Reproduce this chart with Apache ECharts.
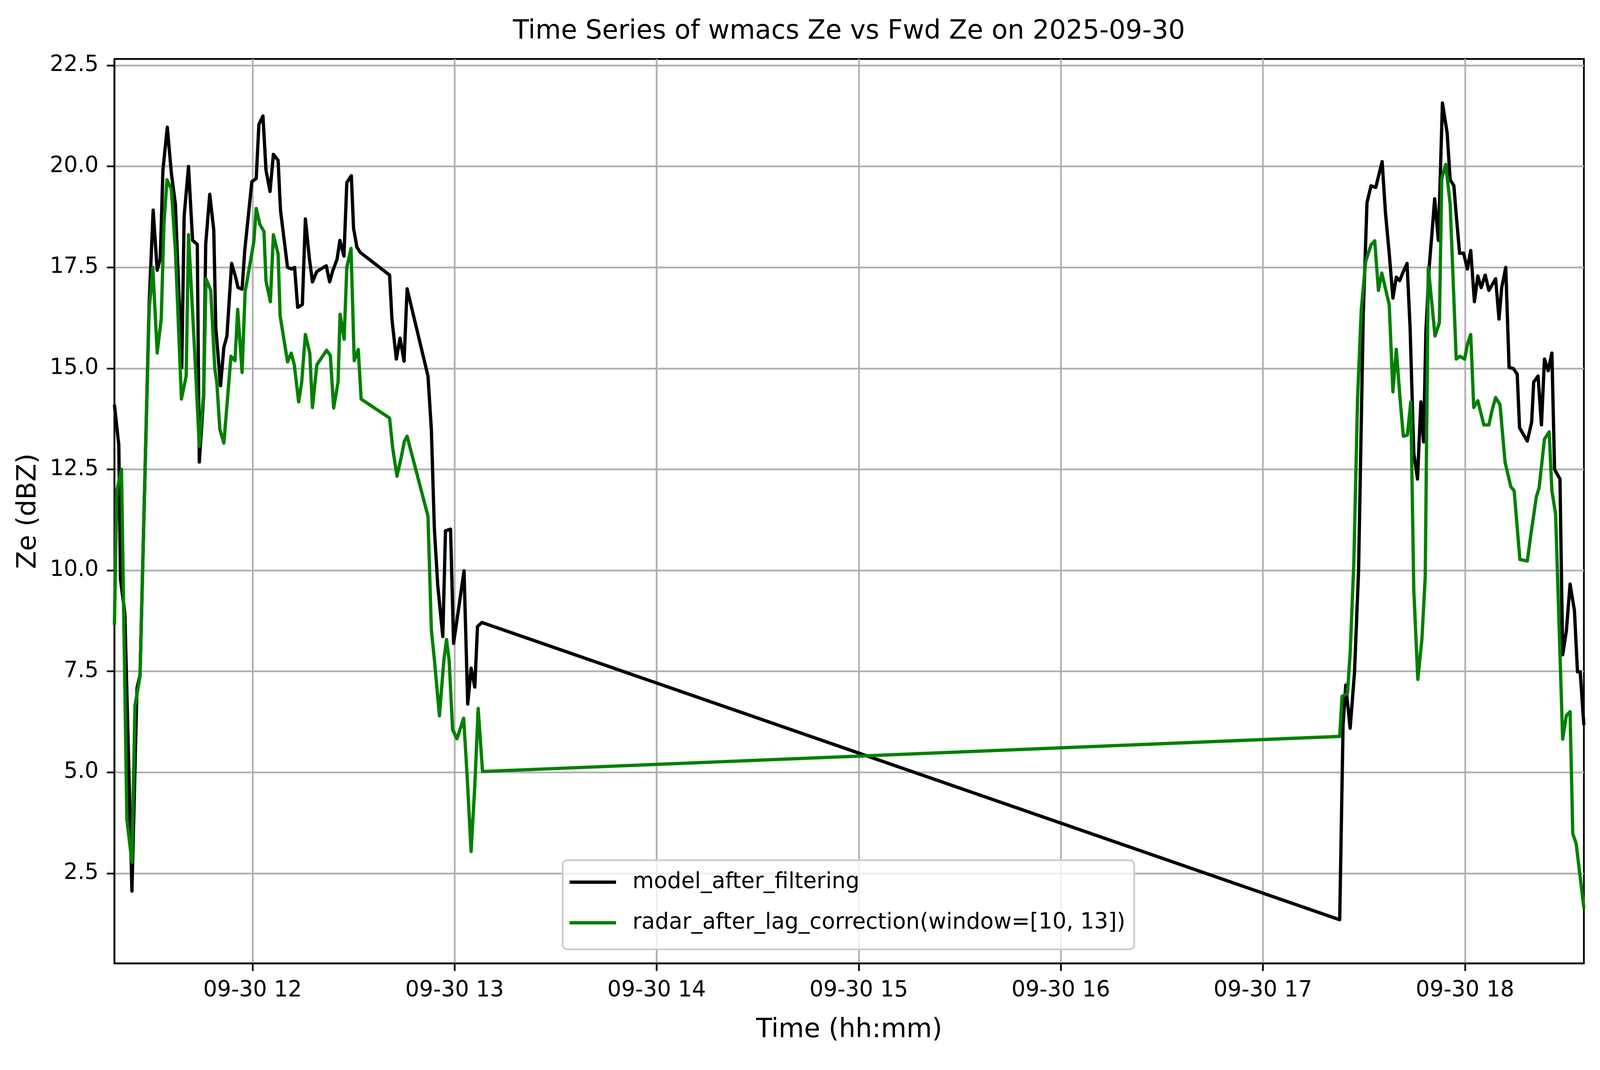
<!DOCTYPE html>
<html>
<head>
<meta charset="utf-8">
<script src="https://cdn.jsdelivr.net/npm/echarts@6/dist/echarts.min.js"></script>
<style>
  html, body { margin: 0; padding: 0; background: #ffffff; overflow: hidden; }
  #main { width: 100vw; height: 100vh; }
</style>
</head>
<body>
<div id="main"></div>
<script>
// ---------------- DATA ----------------
const chartDate = [2025, 9, 30];

const modelTimes = [
  '11:19:00','11:20:18','11:20:48','11:22:06','11:24:12','11:25:42','11:26:36','11:29:18','11:30:30','11:31:42',
  '11:32:36','11:33:24','11:34:42','11:35:54','11:37:06','11:39:00','11:39:42','11:41:00','11:42:12','11:43:36',
  '11:44:12','11:45:30','11:46:06','11:47:18','11:48:30','11:49:06','11:50:30','11:51:30','11:52:24','11:53:48',
  '11:55:06','11:55:42','11:56:54','11:57:42','11:59:48','12:01:06','12:01:54','12:03:06','12:04:00','12:05:12',
  '12:06:12','12:07:36','12:08:18','12:10:24','12:11:36','12:12:30','12:13:24','12:14:48','12:15:42','12:16:54',
  '12:17:48','12:19:06','12:21:54','12:22:54','12:23:48','12:25:06','12:25:57','12:27:09','12:28:00','12:29:21',
  '12:30:00','12:31:00','12:32:00','12:40:42','12:41:24','12:42:42','12:43:48','12:45:00','12:45:54','12:52:06',
  '12:53:06','12:54:00','12:55:00','12:56:30','12:57:18','12:58:48','12:59:42','13:01:06','13:02:48','13:03:54',
  '13:04:54','13:06:00','13:06:48','13:08:06',
  '17:22:48','17:23:48','17:24:36','17:25:54','17:27:12','17:28:24','17:29:48','17:30:54','17:32:06','17:33:30',
  '17:35:24','17:36:24','17:37:30','17:38:36','17:39:36','17:40:36','17:41:30','17:42:48','17:43:42','17:44:48',
  '17:45:54','17:46:54','17:47:42','17:48:24','17:49:24','17:50:12','17:51:00','17:52:06','17:53:18','17:54:42',
  '17:55:36','17:56:42','17:57:30','17:58:24','17:59:36','18:00:42','18:01:42','18:02:48','18:03:48','18:04:48',
  '18:06:00','18:07:06','18:09:06','18:10:06','18:10:54','18:12:06','18:13:06','18:14:18','18:15:30','18:16:12',
  '18:18:30','18:19:48','18:20:24','18:21:42','18:22:42','18:23:36','18:24:42','18:25:48','18:26:36','18:28:12',
  '18:29:00','18:30:06','18:31:12','18:32:30','18:33:24','18:34:12','18:35:18'
];
const modelValues = [
  14.1, 13.1, 9.78, 8.93, 2.06, 7.09, 7.4, 16.58, 18.92, 17.43,
  17.71, 19.91, 20.97, 19.84, 19.06, 15.02, 18.77, 20.0, 18.17, 18.07,
  12.68, 14.31, 18.07, 19.31, 18.42, 16.01, 14.57, 15.52, 15.8, 17.6,
  17.22, 17.0, 16.96, 17.92, 19.62, 19.7, 21.04, 21.25, 19.91, 19.38,
  20.3, 20.15, 18.92, 17.5, 17.46, 17.5, 16.51, 16.58, 18.7, 17.71,
  17.14, 17.4, 17.54, 17.14, 17.41, 17.7, 18.17, 17.78, 19.6, 19.77,
  18.47, 18.0, 17.87, 17.31, 16.22, 15.23, 15.75, 15.18, 16.97, 14.81,
  13.49, 11.02, 9.63, 8.36, 10.98, 11.02, 8.19, 9.0, 9.99, 6.69,
  7.58, 7.11, 8.61, 8.71,
  1.35, 6.17, 7.16, 6.09, 7.48, 9.99, 16.36, 19.1, 19.52, 19.48,
  20.12, 18.84, 17.85, 16.74, 17.26, 17.17, 17.36, 17.6, 16.01, 12.9,
  12.26, 14.17, 13.18, 15.94, 17.54, 18.35, 19.2, 18.17, 21.57, 20.83,
  19.67, 19.52, 18.7, 17.85, 17.85, 17.46, 17.92, 16.65, 17.29, 17.0,
  17.31, 16.93, 17.22, 16.22, 17.0, 17.5, 15.02, 15.0, 14.86, 13.53,
  13.2, 13.67, 14.66, 14.81, 13.6, 15.23, 14.94, 15.38, 12.5, 12.26,
  7.91, 8.5, 9.66, 9.0, 7.49, 7.49, 6.17
];

const radarTimes = [
  '11:19:00','11:19:42','11:21:06','11:22:42','11:24:12','11:25:06','11:26:36','11:29:18','11:30:24','11:31:42',
  '11:32:54','11:33:42','11:34:36','11:35:54','11:37:06','11:38:54','11:40:18','11:41:00','11:42:48','11:44:12',
  '11:45:30','11:46:12','11:47:36','11:48:48','11:49:24','11:50:18','11:51:30','11:53:36','11:54:48','11:55:36',
  '11:56:54','11:57:48','12:00:24','12:01:06','12:02:12','12:03:24','12:04:00','12:05:18','12:06:12','12:07:36',
  '12:08:12','12:10:24','12:11:30','12:12:24','12:13:42','12:14:36','12:15:42','12:17:00','12:17:48','12:19:06',
  '12:22:00','12:23:06','12:24:06','12:25:24','12:26:00','12:27:12','12:28:00','12:29:15','12:30:12','12:31:24',
  '12:32:15','12:40:42','12:41:36','12:42:54','12:44:12','12:45:06','12:45:54','12:52:06','12:53:06','12:54:00',
  '12:55:30','12:56:48','12:57:36','12:58:24','12:59:24','13:00:42','13:02:42','13:03:42','13:04:54','13:06:00',
  '13:07:00','13:08:18',
  '17:22:48','17:23:30','17:25:06','17:25:54','17:27:00','17:28:06','17:29:12','17:30:30','17:32:06','17:33:12',
  '17:34:18','17:35:18','17:37:30','17:38:36','17:39:36','17:40:48','17:41:42','17:42:54','17:43:54','17:44:48',
  '17:46:00','17:47:12','17:48:12','17:49:06','17:50:12','17:51:06','17:52:24','17:53:06','17:54:18','17:55:36',
  '17:56:24','17:57:24','17:58:30','17:59:54','18:00:42','18:01:42','18:02:36','18:03:48','18:05:36','18:07:06',
  '18:08:00','18:09:06','18:10:24','18:11:54','18:13:36','18:14:36','18:16:18','18:18:30','18:19:36','18:21:12',
  '18:22:00','18:23:36','18:25:00','18:25:48','18:26:54','18:29:00','18:30:06','18:31:12','18:32:00','18:33:00',
  '18:35:18'
];
const radarValues = [
  8.65, 11.97, 12.5, 3.83, 2.77, 6.65, 7.37, 16.44, 17.5, 15.38,
  16.23, 18.56, 19.67, 19.44, 17.92, 14.24, 14.81, 18.31, 15.45, 13.07,
  14.39, 17.22, 16.93, 14.99, 14.66, 13.49, 13.15, 15.3, 15.19, 16.46,
  14.9, 16.89, 18.14, 18.96, 18.56, 18.39, 17.17, 16.65, 18.31, 17.83,
  16.3, 15.16, 15.38, 15.09, 14.17, 14.66, 15.84, 15.38, 14.03, 15.09,
  15.45, 15.32, 14.02, 14.66, 16.34, 15.72, 17.5, 17.97, 15.19, 15.47,
  14.24, 13.77, 13.04, 12.33, 12.82, 13.2, 13.32, 11.34, 8.53, 7.79,
  6.4, 7.76, 8.29, 7.76, 6.06, 5.83, 6.34, 4.95, 3.04, 4.67,
  6.58, 5.02,
  5.89, 6.88, 6.95, 7.94, 10.2, 14.24, 16.44, 17.64, 18.06, 18.16,
  16.93, 17.36, 16.58, 14.42, 15.47, 14.17, 13.32, 13.35, 14.17, 9.5,
  7.3, 8.29, 9.85, 17.5, 16.58, 15.8, 16.13, 19.7, 20.05, 19.06,
  17.36, 15.23, 15.3, 15.23, 15.59, 15.84, 14.03, 14.2, 13.6, 13.6,
  13.95, 14.28, 14.1, 12.68, 12.07, 11.97, 10.27, 10.23, 10.91, 11.83,
  12.04, 13.25, 13.43, 11.97, 11.4, 5.82, 6.41, 6.5, 3.48, 3.24,
  1.64
];

const seriesNames = ['model_after_filtering', 'radar_after_lag_correction(window=[10, 13])'];
const seriesColors = ['#000000', '#008000'];
const yTickValues = [2.5, 5.0, 7.5, 10.0, 12.5, 15.0, 17.5, 20.0, 22.5];
const xTickHours = ['12:00:00','13:00:00','14:00:00','15:00:00','16:00:00','17:00:00','18:00:00'];
const yRange = [0.27, 22.66];
const titleText = 'Time Series of wmacs Ze vs Fwd Ze on 2025-09-30';
const xAxisName = 'Time (hh:mm)';
const yAxisName = 'Ze (dBZ)';

// ---------------- helpers ----------------
function toTs(hms) {
  const p = hms.split(':').map(Number);
  return new Date(chartDate[0], chartDate[1] - 1, chartDate[2], p[0], p[1], p[2] || 0).getTime();
}
function pad2(n) { return (n < 10 ? '0' : '') + n; }

const FONT = 'DejaVu Sans';
const modelData = modelTimes.map((t, i) => [toTs(t), modelValues[i]]);
const radarData = radarTimes.map((t, i) => [toTs(t), radarValues[i]]);
const xTicks = xTickHours.map(toTs);

// layout designed for a 5062 x 2740 page, scaled to the real viewport
const W = window.innerWidth || 5062;
const H = window.innerHeight || 2740;
const sx = W / 5062, sy = H / 2740, sf = Math.min(sx, sy);
const X = v => v * sx, Y = v => v * sy, F = v => v * sf;

const chart = echarts.init(document.getElementById('main'), null, { renderer: 'canvas', width: W, height: H });

chart.setOption({
  animation: false,
  backgroundColor: '#ffffff',
  textStyle: { fontFamily: FONT },
  title: {
    text: titleText,
    left: X(2686),
    top: Y(48),
    textAlign: 'center',
    padding: 0,
    textStyle: { fontFamily: FONT, fontSize: F(83), fontWeight: 'normal', color: '#000000' }
  },
  grid: {
    left: X(362), right: X(51), top: Y(151), bottom: Y(273),
    show: true, borderColor: '#000000', borderWidth: F(5.5), backgroundColor: 'transparent'
  },
  legend: {
    orient: 'vertical',
    left: X(1780), top: Y(2203),
    icon: 'rect',
    itemWidth: X(147), itemHeight: F(10.4), itemGap: Y(22),
    padding: [Y(15), X(28), Y(27), X(22)],
    backgroundColor: 'rgba(255,255,255,0.8)',
    borderColor: '#cccccc', borderWidth: F(5.5), borderRadius: F(14),
    textStyle: { fontFamily: FONT, fontSize: F(69.4), color: '#000000', lineHeight: Y(82), padding: [0, 0, 0, X(46)] },
    data: seriesNames
  },
  xAxis: {
    type: 'value',
    min: 'dataMin', max: 'dataMax',
    scale: true,
    name: xAxisName, nameLocation: 'middle', nameGap: Y(138),
    nameTextStyle: { fontFamily: FONT, fontSize: F(83), color: '#000000' },
    axisLine: { show: true, onZero: false, lineStyle: { color: '#000000', width: F(5.5) } },
    axisTick: { show: true, length: F(24), lineStyle: { color: '#000000', width: F(5.5) }, customValues: xTicks },
    axisLabel: {
      customValues: xTicks, margin: Y(42), fontFamily: FONT, fontSize: F(69.4), color: '#000000', hideOverlap: false,
      formatter: function (v) {
        const d = new Date(v);
        return pad2(d.getMonth() + 1) + '-' + pad2(d.getDate()) + ' ' + pad2(d.getHours());
      }
    },
    splitLine: { show: true, lineStyle: { color: '#b0b0b0', width: F(5.5) } }
  },
  yAxis: {
    type: 'value',
    min: yRange[0], max: yRange[1],
    name: yAxisName, nameLocation: 'middle', nameGap: X(230), nameRotate: 90,
    nameTextStyle: { fontFamily: FONT, fontSize: F(83), color: '#000000' },
    axisLine: { show: true, onZero: false, lineStyle: { color: '#000000', width: F(5.5) } },
    axisTick: { show: true, length: F(24), lineStyle: { color: '#000000', width: F(5.5) }, customValues: yTickValues },
    axisLabel: {
      customValues: yTickValues, margin: X(50), fontFamily: FONT, fontSize: F(69.4), color: '#000000',
      formatter: function (v) { return Number(v).toFixed(1); }
    },
    splitLine: { show: true, lineStyle: { color: '#b0b0b0', width: F(5.5) } }
  },
  series: [
    {
      name: seriesNames[0], type: 'line', data: modelData, showSymbol: false, symbol: 'none',
      color: seriesColors[0], itemStyle: { color: seriesColors[0] },
      lineStyle: { color: seriesColors[0], width: F(10.4), join: 'round', cap: 'butt' }, z: 3
    },
    {
      name: seriesNames[1], type: 'line', data: radarData, showSymbol: false, symbol: 'none',
      color: seriesColors[1], itemStyle: { color: seriesColors[1] },
      lineStyle: { color: seriesColors[1], width: F(10.4), join: 'round', cap: 'butt' }, z: 4
    }
  ]
});
</script>
</body>
</html>
